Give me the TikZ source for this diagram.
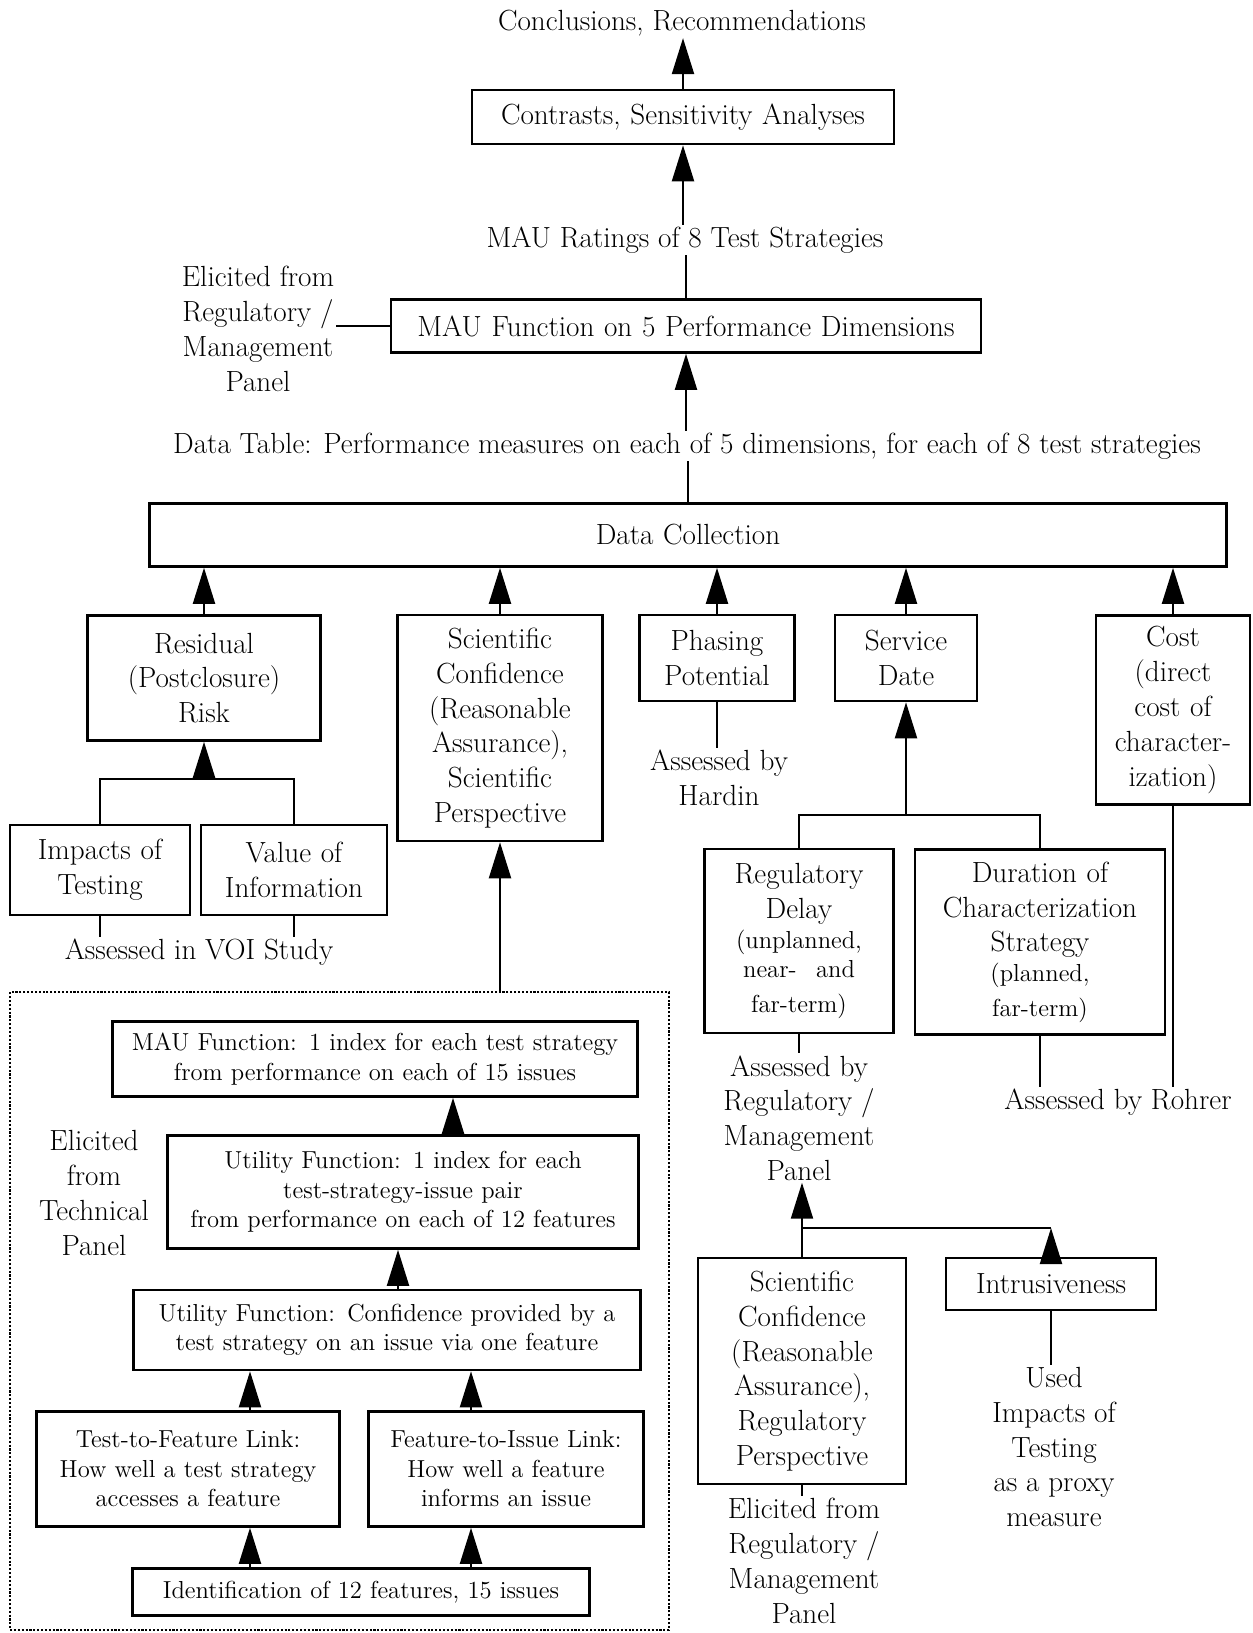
\documentclass[tikz,border=0pt]{standalone}
\usepackage{tikz}
\usetikzlibrary{arrows.meta}

\newcommand{\bigtxt}{\fontsize{16.6}{19.8}\selectfont}
\newcommand{\smalltxt}{\fontsize{14}{16.8}\selectfont}

\begin{document}
\begin{tikzpicture}[x=0.02cm, y=-0.02cm,
    box/.style={draw, line width=1.5pt, align=center, inner xsep=0pt, inner ysep=2pt, font=\bigtxt},
    ibox/.style={box, font=\smalltxt},
    lbl/.style={align=center, inner sep=1pt, font=\bigtxt},
    link/.style={line width=1.2pt},
    up/.style={line width=1.2pt, -{Triangle[length=0.72cm, width=0.44cm]}}]
  \useasboundingbox (0,0) rectangle (1252,1633);

  % Top of the chain
  \node[lbl] (concl) at (682,23) {Conclusions, Recommendations};
  \node[box, text width=8.44cm, minimum height=1.08cm] (contr) at (683,117) {Contrasts, Sensitivity Analyses};
  \node[lbl] (ratings) at (685,240) {MAU Ratings of 8 Test Strategies};
  \node[box, text width=11.8cm, minimum height=1.06cm] (mau) at (686,326) {MAU Function on 5 Performance Dimensions};
  \node[lbl] (elreg) at (258,329) {Elicited from\\Regulatory /\\Management\\Panel};
  \node[lbl] (table) at (687,446) {Data Table: Performance measures on each of 5 dimensions, for each of 8 test strategies};
  \node[box, text width=21.54cm, minimum height=1.26cm] (coll) at (688,535) {Data Collection};

  \draw[up] (contr.north) -- (contr.north |- concl.south);
  \draw[up] (contr.south |- ratings.north) -- (contr.south);
  \draw[link] (mau.north) -- (mau.north |- ratings.south);
  \draw[link] (elreg.east |- mau.west) -- (mau.west);
  \draw[up] (mau.south |- table.north) -- (mau.south);
  \draw[link] (coll.north |- table.south) -- (coll.north);

  % Performance dimensions
  \node[box, text width=4.66cm, minimum height=2.5cm] (resid) at (204,678) {Residual\\(Postclosure)\\Risk};
  \node[box, text width=4.1cm, minimum height=4.52cm] (scisci) at (500,728) {Scientific\\Confidence\\(Reasonable\\Assurance),\\Scientific\\Perspective};
  \node[box, text width=3.1cm, minimum height=1.72cm] (phase) at (717,658) {Phasing\\Potential};
  \node[box, text width=2.84cm, minimum height=1.72cm] (serv) at (906,658) {Service\\Date};
  \node[box, text width=3.08cm, minimum height=3.78cm] (cost) at (1173,710) {Cost\\(direct\\cost of\\character-\\ization)};

  \foreach \n in {resid, scisci, phase, serv, cost}
    \draw[up] (\n.north) -- (\n.north |- coll.south);

  % Residual risk inputs
  \node[box, text width=3.6cm, minimum height=1.8cm] (impact) at (100,870) {Impacts of\\Testing};
  \node[box, text width=3.72cm, minimum height=1.8cm] (voi) at (294,870) {Value of\\Information};
  \node[lbl] (voistudy) at (199,952) {Assessed in VOI Study};
  \coordinate (rjoin) at (204,779);
  \draw[link] (impact.north) |- (rjoin) -| (voi.north);
  \draw[up] (rjoin) -- (resid.south);
  \draw[link] (impact.south) -- (impact.south |- voistudy.north);
  \draw[link] (voi.south) -- (voi.south |- voistudy.north);

  % Phasing and service date
  \node[lbl] (hardin) at (719,778) {Assessed by\\Hardin};
  \draw[link] (phase.south) -- (phase.south |- hardin.north);
  \node[box, text width=3.78cm, minimum height=3.68cm] (regdel) at (799,941) {Regulatory\\Delay\\{\smalltxt (unplanned,\\near-\ \ and\\far-term)}};
  \node[box, text width=5cm, minimum height=3.7cm] (durat) at (1040,942) {Duration of\\Characterization\\Strategy\\{\smalltxt (planned,\\far-term)}};
  \coordinate (sjoin) at (906,815);
  \draw[link] (regdel.north) |- (sjoin) -| (durat.north);
  \draw[up] (sjoin) -- (serv.south);
  \node[lbl] (regpanel) at (799,1118) {Assessed by\\Regulatory /\\Management\\Panel};
  \node[lbl] (rohrer) at (1118,1102) {Assessed by Rohrer};
  \draw[link] (regdel.south) -- (regdel.south |- regpanel.north);
  \draw[link] (durat.south) -- (durat.south |- rohrer.north);
  \draw[link] (cost.south) -- (cost.south |- rohrer.north);

  % Regulatory delay inputs
  \node[box, text width=4.16cm, minimum height=4.52cm] (scireg) at (802,1371) {Scientific\\Confidence\\(Reasonable\\Assurance),\\Regulatory\\Perspective};
  \node[box, text width=4.2cm, minimum height=1.04cm] (intru) at (1051,1284) {Intrusiveness};
  \coordinate (pjoin) at (802,1228);
  \draw[up] (scireg.north) -- (scireg.north |- regpanel.south);
  \draw[link] (pjoin) -- (pjoin -| intru.north);
  \draw[up] (intru.north) -- (intru.north |- pjoin);
  \node[lbl] (proxy) at (1054,1447) {Used\\Impacts of\\Testing\\as a proxy\\measure};
  \node[lbl] (elregb) at (804,1561) {Elicited from\\Regulatory /\\Management\\Panel};
  \draw[link] (intru.south) -- (intru.south |- proxy.north);
  \draw[link] (scireg.south) -- (scireg.south |- elregb.north);

  % Technical panel area
  \node[draw, densely dotted, line width=1.2pt, minimum width=13.18cm, minimum height=12.76cm] (panelarea) at (339.5,1311) {};
  \draw[up] (scisci.south |- panelarea.north) -- (scisci.south);
  \node[ibox, text width=10.5cm, minimum height=1.5cm] (maui) at (375,1059) {MAU Function:\enspace 1 index for each test strategy\\from performance on each of 15 issues};
  \node[ibox, text width=9.42cm, minimum height=2.26cm] (util) at (403,1192) {Utility Function:\enspace 1 index for each\\test-strategy-issue pair\\from performance on each of 12 features};
  \node[lbl] (eltech) at (94,1193) {Elicited\\from\\Technical\\Panel};
  \node[ibox, text width=10.14cm, minimum height=1.6cm] (conf) at (387,1330) {Utility Function:\enspace Confidence provided by a\\test strategy on an issue via one feature};
  \node[ibox, text width=6.06cm, minimum height=2.3cm] (tfl) at (188,1469) {Test-to-Feature Link:\\How well a test strategy\\accesses a feature};
  \node[ibox, text width=5.5cm, minimum height=2.3cm] (fil) at (506,1469) {Feature-to-Issue Link:\\How well a feature\\informs an issue};
  \node[ibox, text width=9.14cm, minimum height=0.94cm] (ident) at (361,1592) {Identification of 12 features, 15 issues};

  \coordinate (ua) at (453,0);
  \coordinate (ub) at (398,0);
  \coordinate (la) at (250,0);
  \coordinate (lb) at (471,0);
  \draw[up] (util.north -| ua) -- (maui.south -| ua);
  \draw[up] (conf.north -| ub) -- (util.south -| ub);
  \draw[up] (tfl.north -| la) -- (conf.south -| la);
  \draw[up] (fil.north -| lb) -- (conf.south -| lb);
  \draw[up] (ident.north -| la) -- (tfl.south -| la);
  \draw[up] (ident.north -| lb) -- (fil.south -| lb);
\end{tikzpicture}
\end{document}
